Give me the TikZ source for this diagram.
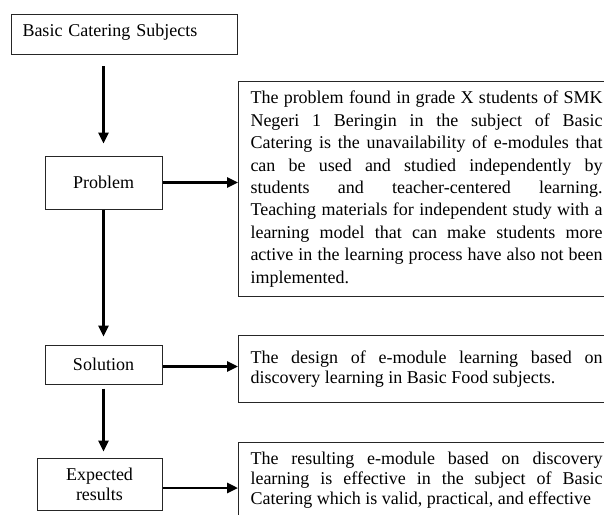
\documentclass[tikz,border=0pt]{standalone}
\usepackage{fontspec}
\setmainfont{Liberation Serif}
\usetikzlibrary{arrows.meta}
\tolerance=10000
\hyphenpenalty=10000
\tikzset{
  boxnode/.style={draw=black!85, line width=1pt, rectangle, inner sep=0pt, align=center, font=\fontsize{18}{20}\selectfont},
  descnode/.style={draw=black!85, line width=1pt, rectangle, anchor=north west, text width=352pt, inner xsep=12pt, inner ysep=0pt, align=justify},
  signal/.style={line width=2.6pt, -{Triangle[length=11pt,width=10pt]}},
}
\begin{document}
\begin{tikzpicture}[x=1pt,y=1pt]
    \fill[white] (0,0) rectangle (604,-514);
    \clip (0,0) rectangle (604,-514);
%    left column
    \node[boxnode, anchor=north west, minimum width=226pt, minimum height=40pt, text width=204pt, inner xsep=11pt, align=left, text height=16.5pt, text depth=13.5pt] (S0) at (11,-14) {Basic Catering Subjects};
    \node[boxnode, minimum width=117pt, minimum height=53pt] (N1) at (103.5,-182.5) {Problem};
    \node[boxnode, minimum width=117pt, minimum height=39pt] (N2) at (103.5,-364.5) {Solution};
    \node[boxnode, minimum width=125pt, minimum height=52pt] (N3) at (99.5,-484) {Expected\\results};
%    right column
    \node[descnode, minimum height=215pt, font=\fontsize{18}{22.4}\selectfont] (t1) at (238,-81) {The problem found in grade X students of SMK\linebreak
        Negeri 1 Beringin in the subject of Basic\linebreak
        Catering is the unavailability of e-modules that\linebreak
        can be used and studied independently by\linebreak
        students and teacher-centered learning.\linebreak
        Teaching materials for independent study with a\linebreak
        learning model that can make students more\linebreak
        active in the learning process have also not been\linebreak
        implemented.};
    \node[descnode, minimum height=67pt, font=\fontsize{18}{20}\selectfont] (t2) at (238,-335) {The design of e-module learning based on\linebreak
        discovery learning in Basic Food subjects.};
    \node[descnode, minimum height=76pt, font=\fontsize{18}{20}\selectfont] (t3) at (238,-442) {The resulting e-module based on discovery\linebreak
        learning is effective in the subject of Basic\linebreak
        Catering which is valid, practical, and effective};
%    arrows
    \draw[signal, shorten <=11pt, shorten >=12pt] (N1.north |- S0.south) -- (N1.north);
    \draw[signal, shorten >=8pt] (N1.south) -- (N2.north);
    \draw[signal, shorten <=4pt, shorten >=6pt] (N2.south) -- (N2.south |- N3.north);
    \draw[signal] (N1.east) -- (N1.east -| t1.west);
    \draw[signal] ([yshift=-2pt]N2.east) -- ([yshift=-2pt]N2.east -| t2.west);
    \draw[signal] ([yshift=-4pt]N3.east) -- ([yshift=-4pt]N3.east -| t3.west);
\end{tikzpicture}
\end{document}
